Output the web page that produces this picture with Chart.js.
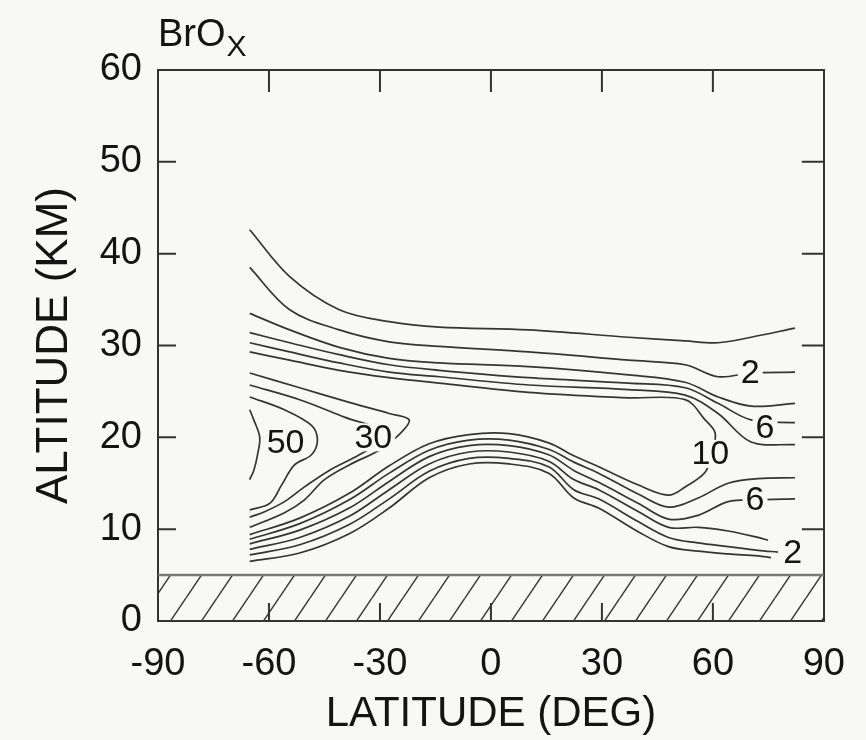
<!DOCTYPE html>
<html>
<head>
<meta charset="utf-8">
<script src="https://cdn.jsdelivr.net/npm/chart.js@4.4.1/dist/chart.umd.min.js"></script>
<style>
  html, body { margin: 0; padding: 0; background: #f8f8f7; }
  #wrap { width: 866px; height: 740px; }
</style>
</head>
<body>
<div id="wrap"><canvas id="brox" width="866" height="740"></canvas></div>
<script>
// axis ticks
const latTicks = [-90, -60, -30, 0, 30, 60, 90];
const altTicks = [0, 10, 20, 30, 40, 50, 60];

// ground layer (hatched), km
const groundTop = 5;

// upper band contours
const upperLat = [-65.2, -54.4, -41.0, -27.5, -14.0, 10.2, 37.2, 52.5, 61.4, 70.3, 82.2];
const c1Alt = [42.6, 37.5, 33.9, 32.6, 32.0, 31.7, 30.9, 30.5, 30.3, 30.9, 31.9];
const c2Alt = [38.5, 33.9, 31.7, 30.4, 29.9, 29.3, 28.4, 27.9, 26.6, 27.0, 27.1];
const c4Alt = [33.5, 31.7, 29.8, 28.6, 28.1, 27.7, 26.8, 26.0, 24.4, 23.4, 23.7];
const c6Alt = [31.4, 30.3, 29.0, 27.9, 27.3, 26.5, 25.9, 25.4, 23.7, 21.9, 21.6];
const c8Alt = [30.3, 29.3, 28.1, 27.1, 26.6, 25.7, 25.2, 24.6, 22.6, 19.5, 19.2];

// the 10 contour wraps from the lower band round to the upper band
const c10Lat = [-65.2, -51.7, -38.3, -27.5, -16.7, -5.9, 4.9, 15.6, 22.4, 29.1, 39.9, 48.0, 52.5, 57.9, 59.8, 60.6, 57.9, 52.5, 37.2, 10.2, -14.0, -27.5, -41.0, -54.4, -65.2];
const c10Alt = [9.4, 11.2, 13.9, 16.9, 19.3, 20.3, 20.4, 19.4, 18.0, 16.8, 14.8, 13.7, 14.6, 16.2, 18.3, 20.5, 21.9, 24.1, 24.3, 24.9, 25.9, 26.5, 27.3, 28.4, 29.3];

// lower band contours
const lowLat = [-65.2, -51.7, -38.3, -27.5, -16.7, -5.9, 4.9, 15.6, 22.4, 29.1, 39.9, 48.0, 56.0, 64.1, 72.2, 82.2];
const l8Alt = [8.9, 10.6, 13.2, 16.1, 18.6, 19.7, 19.7, 18.7, 17.3, 16.1, 13.8, 12.4, 13.4, 15.0, 15.5, 15.6];
const l6Alt = [8.4, 9.9, 12.3, 15.2, 17.9, 19.1, 19.1, 18.1, 16.4, 15.1, 12.8, 11.1, 11.5, 13.0, 13.2, 13.3];
const l4Lat = [-65.2, -51.7, -38.3, -27.5, -16.7, -5.9, 4.9, 15.6, 22.4, 29.1, 39.9, 48.0, 56.0, 64.1, 72.2, 74.9];
const l4Alt = [7.8, 9.1, 11.4, 14.3, 17.1, 18.4, 18.4, 17.4, 15.4, 14.3, 11.9, 10.2, 10.2, 9.8, 9.1, 8.8];
const l2Lat = [-65.2, -51.7, -38.3, -27.5, -16.7, -5.9, 4.9, 15.6, 22.4, 29.1, 39.9, 48.0, 56.0, 64.1, 72.2, 77.6];
const l2Alt = [7.2, 8.3, 10.5, 13.3, 16.3, 17.7, 17.7, 16.8, 14.3, 13.3, 10.8, 9.1, 8.5, 8.1, 7.7, 7.5];
const l1Lat = [-65.2, -51.7, -38.3, -27.5, -16.7, -5.9, 4.9, 15.6, 22.4, 29.1, 39.9, 48.0, 56.0, 64.1, 72.2, 75.7];
const l1Alt = [6.5, 7.4, 9.5, 12.3, 15.6, 17.1, 17.1, 16.1, 13.4, 12.3, 9.7, 8.1, 7.6, 7.3, 7.1, 6.9];

// southern maximum
const s20Lat = [-65.2, -51.7, -38.3, -27.5, -22.1, -24.8, -30.2, -38.3, -45.0, -50.4, -55.8, -65.2];
const s20Alt = [27.0, 25.4, 23.8, 22.6, 21.9, 20.3, 18.6, 17.0, 15.4, 13.2, 11.8, 10.2];
const s30Lat = [-65.2, -51.7, -39.6, -27.5, -35.6, -43.7, -50.4, -55.8, -61.2, -65.2];
const s30Alt = [25.7, 24.1, 22.2, 20.3, 18.1, 16.4, 14.6, 13.0, 11.9, 11.3];
const s40Lat = [-65.2, -55.8, -48.5, -46.9, -48.5, -53.1, -56.6, -59.8, -65.2];
const s40Alt = [24.4, 23.0, 21.3, 19.7, 18.1, 17.0, 14.8, 12.8, 12.1];
const s50Lat = [-65.2, -64.1, -62.5, -63.1, -64.1, -65.2];
const s50Alt = [23.0, 21.9, 20.0, 18.1, 16.4, 15.4];

// contour labels
const labelText = ['2', '6', '10', '6', '2', '50', '30'];
const labelLat = [70.1, 74.1, 59.3, 71.4, 81.6, -55.5, -31.8];
const labelAlt = [27.0, 21.1, 18.2, 13.2, 7.4, 19.4, 20.0];

const INK = '#141414';
const LINE = '#353535';
const BG = '#f8f8f7';
const FONT = '"Liberation Sans", Arial, Helvetica, sans-serif';

function pts(lats, alts) {
    return lats.map((v, i) => ({x: v, y: alts[i]}));
}

function contour(lats, alts) {
    return {
        data: pts(lats, alts),
        showLine: true,
        borderColor: LINE,
        borderWidth: 1.7,
        pointRadius: 0,
        tension: 0.35,
        fill: false
    };
}

function hatchPattern() {
    const w = 31, h = 46;
    const c = document.createElement('canvas');
    c.width = w; c.height = h;
    const g = c.getContext('2d');
    g.strokeStyle = '#3a3a3a';
    g.lineWidth = 1.5;
    g.beginPath();
    [-w, 0, w].forEach(o => { g.moveTo(o, h); g.lineTo(o + w, 0); });
    g.stroke();
    return g.createPattern(c, 'repeat');
}

const inwardTicks = {
    id: 'inwardTicks',
    afterDraw(chart) {
        const {ctx, chartArea: a, scales: {x, y}} = chart;
        ctx.save();
        ctx.strokeStyle = '#333';
        ctx.lineWidth = 2;
        ctx.beginPath();
        latTicks.slice(1, -1).forEach(v => {
            const px = x.getPixelForValue(v);
            ctx.moveTo(px, a.top); ctx.lineTo(px, a.top + 22);
            ctx.moveTo(px, a.bottom); ctx.lineTo(px, a.bottom - 18);
        });
        altTicks.slice(1, -1).forEach(v => {
            const py = y.getPixelForValue(v);
            ctx.moveTo(a.left, py); ctx.lineTo(a.left + 18, py);
            ctx.moveTo(a.right, py); ctx.lineTo(a.right - 22, py);
        });
        ctx.stroke();
        ctx.restore();
    }
};

const contourLabels = {
    id: 'contourLabels',
    afterDatasetsDraw(chart) {
        const {ctx, scales: {x, y}} = chart;
        ctx.save();
        ctx.font = '34px ' + FONT;
        ctx.textAlign = 'center';
        ctx.textBaseline = 'middle';
        labelText.forEach((t, i) => {
            const px = x.getPixelForValue(labelLat[i]);
            const py = y.getPixelForValue(labelAlt[i]);
            const w = ctx.measureText(t).width;
            ctx.fillStyle = BG;
            ctx.fillRect(px - w / 2 - 3, py - 14, w + 6, 28);
            ctx.fillStyle = INK;
            ctx.fillText(t, px, py + 1);
        });
        ctx.restore();
    }
};

const plotTitle = {
    id: 'plotTitle',
    afterDraw(chart) {
        const {ctx} = chart;
        ctx.save();
        ctx.fillStyle = INK;
        ctx.textBaseline = 'alphabetic';
        ctx.textAlign = 'left';
        ctx.font = '38px ' + FONT;
        ctx.fillText('BrO', 158, 46);
        const w = ctx.measureText('BrO').width;
        ctx.font = '30px ' + FONT;
        ctx.fillText('X', 158 + w + 1, 56);
        ctx.restore();
    }
};

const axisFont = {family: FONT, size: 38};
const borderOpt = {display: true, color: '#333', width: 2};
const noGrid = {display: true, drawOnChartArea: false, drawTicks: false};

new Chart(document.getElementById('brox').getContext('2d'), {
    type: 'scatter',
    data: {
        datasets: [
            contour(upperLat, c1Alt),
            contour(upperLat, c2Alt),
            contour(upperLat, c4Alt),
            contour(upperLat, c6Alt),
            contour(upperLat, c8Alt),
            contour(c10Lat, c10Alt),
            contour(lowLat, l8Alt),
            contour(lowLat, l6Alt),
            contour(l4Lat, l4Alt),
            contour(l2Lat, l2Alt),
            contour(l1Lat, l1Alt),
            contour(s20Lat, s20Alt),
            contour(s30Lat, s30Alt),
            contour(s40Lat, s40Alt),
            contour(s50Lat, s50Alt),
            {
                data: [{x: -90, y: groundTop}, {x: 90, y: groundTop}],
                showLine: true,
                fill: 'origin',
                backgroundColor: hatchPattern(),
                borderColor: '#7a7a7a',
                borderWidth: 2.5,
                pointRadius: 0
            }
        ]
    },
    options: {
        responsive: false,
        animation: false,
        layout: {padding: 0},
        plugins: {
            legend: {display: false},
            tooltip: {enabled: false}
        },
        scales: {
            x: {
                type: 'linear', position: 'bottom', min: -90, max: 90,
                afterBuildTicks: s => { s.ticks = latTicks.map(v => ({value: v})); },
                ticks: {font: axisFont, color: INK, padding: 21, maxRotation: 0, autoSkip: false},
                grid: noGrid, border: borderOpt,
                title: {display: true, text: 'LATITUDE (DEG)', font: {family: FONT, size: 42}, color: INK, padding: {top: 0, bottom: 0}},
                afterFit: s => { s.height = 119; }
            },
            y: {
                type: 'linear', position: 'left', min: 0, max: 60,
                afterBuildTicks: s => { s.ticks = altTicks.map(v => ({value: v})); },
                ticks: {font: axisFont, color: INK, padding: 16, autoSkip: false},
                grid: noGrid, border: borderOpt,
                title: {display: true, text: 'ALTITUDE (KM)', font: {family: FONT, size: 44}, color: INK, padding: {top: 28, bottom: 0}},
                afterFit: s => { s.width = 158; }
            },
            x2: {
                type: 'linear', position: 'top', min: -90, max: 90,
                ticks: {display: false}, grid: noGrid, border: borderOpt,
                afterFit: s => { s.height = 70; }
            },
            y2: {
                type: 'linear', position: 'right', min: 0, max: 60,
                ticks: {display: false}, grid: noGrid, border: borderOpt,
                afterFit: s => { s.width = 40; }
            }
        }
    },
    plugins: [inwardTicks, contourLabels, plotTitle]
});
</script>
</body>
</html>
